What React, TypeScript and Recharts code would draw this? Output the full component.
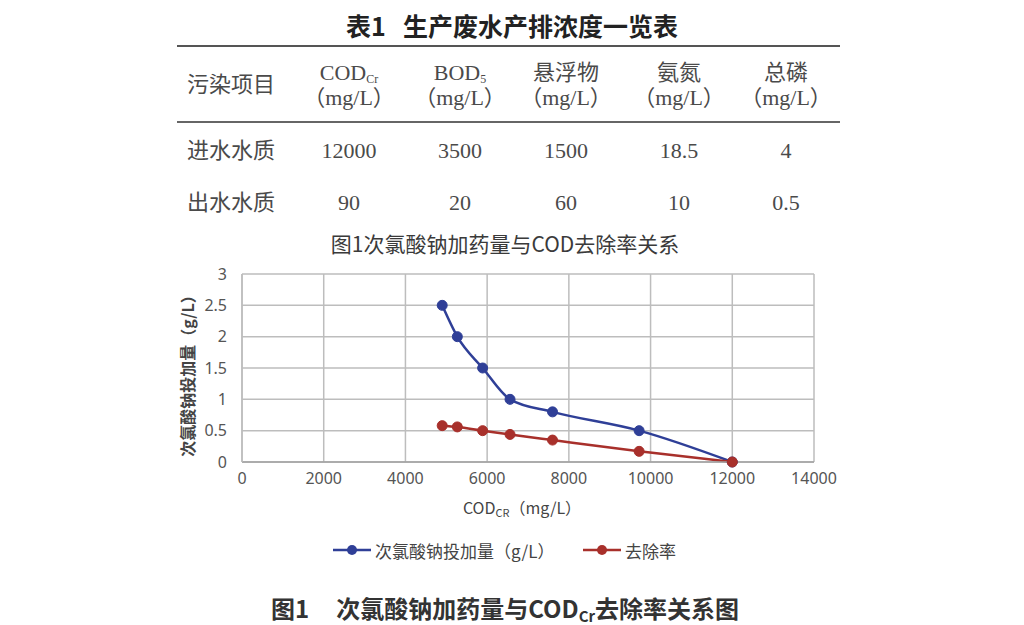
import { LineChart, Line, XAxis, YAxis, CartesianGrid } from 'recharts';

// table 1 values
const tableHeads = ['污染项目', 'COD', 'BOD', '悬浮物', '氨氮', '总磷'];
const tableHeadSubs = ['', 'Cr', '5', '', '', ''];
const inflowRow = ['进水水质', '12000', '3500', '1500', '18.5', '4'];
const outflowRow = ['出水水质', '90', '20', '60', '10', '0.5'];

// figure 1 values
const codValues = [4900, 5270, 5890, 6560, 7600, 9720, 12000];
const doseValues = [2.5, 2.0, 1.5, 1.0, 0.8, 0.5, 0];
const removalValues = [0.58, 0.56, 0.5, 0.44, 0.35, 0.17, 0];
const xTicks = [0, 2000, 4000, 6000, 8000, 10000, 12000, 14000];
const yTicks = [0, 0.5, 1, 1.5, 2, 2.5, 3];

const BLUE = '#2f3f97';
const RED = '#a8302b';
const GRID = '#bdbdbd';

const doseData = codValues.map((x, i) => ({ x, y: doseValues[i] }));
const removalData = codValues.map((x, i) => ({ x, y: removalValues[i] }));

const colCenters = [231, 349, 460, 566, 679, 786];
const tableFont = '"Liberation Serif", "Noto Sans CJK SC", serif';
const sansFont = '"Noto Sans CJK SC", "Noto Sans", sans-serif';

function Cell({ cx, y, children }: { cx: number; y: number; children: any }) {
    return (
        <div style={{
            position: 'absolute', left: cx - 60, top: y, width: 120, textAlign: 'center',
            fontFamily: tableFont, fontSize: 22, lineHeight: '22px', color: '#4a4a4a', whiteSpace: 'nowrap',
        }}>
            {children}
        </div>
    );
}

function LegendItem({ left, color, label }: { left: number; color: string; label: string }) {
    return (
        <div style={{ position: 'absolute', left, top: 540, height: 20, display: 'flex', alignItems: 'center' }}>
            <svg width={38} height={20}>
                <line x1={0} y1={10} x2={38} y2={10} stroke={color} strokeWidth={2.5} />
                <circle cx={19} cy={10} r={5} fill={color} />
            </svg>
            <span style={{ marginLeft: 4, fontFamily: sansFont, fontSize: 17, color: '#444' }}>{label}</span>
        </div>
    );
}

export default function App() {
    return (
        <div style={{ position: 'absolute', left: 0, top: 0, width: 1024, height: 625, background: '#fff', overflow: 'hidden' }}>
            {/* table 1 */}
            <div style={{
                position: 'absolute', left: 0, top: 7, width: 1024, textAlign: 'center',
                fontFamily: sansFont, fontWeight: 700, fontSize: 25, color: '#222',
            }}>
                表1&nbsp;&nbsp;&nbsp;生产废水产排浓度一览表
            </div>
            <div style={{ position: 'absolute', left: 177, top: 45, width: 663, height: 2, background: '#555' }} />
            <div style={{ position: 'absolute', left: 177, top: 121, width: 663, height: 2, background: '#666' }} />

            <Cell cx={colCenters[0]} y={74}>{tableHeads[0]}</Cell>
            {tableHeads.slice(1).map((h, i) => (
                <div key={h}>
                    <Cell cx={colCenters[i + 1]} y={62}>
                        {h}
                        {tableHeadSubs[i + 1] && (
                            <span style={{ fontSize: 12, lineHeight: '12px', position: 'relative', top: 3 }}>
                                {tableHeadSubs[i + 1]}
                            </span>
                        )}
                    </Cell>
                    <Cell cx={colCenters[i + 1]} y={87}>（mg/L）</Cell>
                </div>
            ))}
            {inflowRow.map((v, i) => (
                <Cell key={'in' + i} cx={colCenters[i]} y={140}>{v}</Cell>
            ))}
            {outflowRow.map((v, i) => (
                <Cell key={'out' + i} cx={colCenters[i]} y={192}>{v}</Cell>
            ))}

            {/* figure 1 */}
            <div style={{
                position: 'absolute', left: 0, top: 228, width: 1010, textAlign: 'center',
                fontFamily: sansFont, fontSize: 21, color: '#3a3a3a',
            }}>
                图1次氯酸钠加药量与COD去除率关系
            </div>

            <div style={{ position: 'absolute', left: 150, top: 255 }}>
                <LineChart width={700} height={250} margin={{ top: 19, right: 36, left: 0, bottom: 0 }}>
                    <CartesianGrid stroke={GRID} strokeWidth={1.5} />
                    <XAxis
                        type="number"
                        dataKey="x"
                        domain={[0, 14000]}
                        ticks={xTicks}
                        height={43}
                        tickLine={false}
                        axisLine={{ stroke: '#a0a0a0', strokeWidth: 1.5 }}
                        tickMargin={5}
                        tick={{ fontSize: 16, fill: '#555', fontFamily: '"Noto Sans", sans-serif' }}
                        allowDataOverflow
                    />
                    <YAxis
                        type="number"
                        dataKey="y"
                        domain={[0, 3]}
                        ticks={yTicks}
                        width={92}
                        tickLine={false}
                        axisLine={{ stroke: GRID, strokeWidth: 1.5 }}
                        tickMargin={9}
                        tick={{ fontSize: 16, fill: '#555', fontFamily: '"Noto Sans", sans-serif' }}
                    />
                    <Line
                        data={doseData}
                        dataKey="y"
                        type="monotone"
                        stroke={BLUE}
                        strokeWidth={2.5}
                        dot={{ r: 5, fill: BLUE, stroke: BLUE, strokeWidth: 1 }}
                        isAnimationActive={false}
                    />
                    <Line
                        data={removalData}
                        dataKey="y"
                        type="monotone"
                        stroke={RED}
                        strokeWidth={2.5}
                        dot={{ r: 5, fill: RED, stroke: RED, strokeWidth: 1 }}
                        isAnimationActive={false}
                    />
                </LineChart>
            </div>

            <div style={{
                position: 'absolute', left: 187 - 100, top: 372 - 11, width: 200, height: 22, textAlign: 'center',
                transform: 'rotate(-90deg)', fontFamily: sansFont, fontWeight: 700, fontSize: 16, color: '#444',
                whiteSpace: 'nowrap', lineHeight: '22px',
            }}>
                次氯酸钠投加量（g/L）
            </div>
            <div style={{
                position: 'absolute', left: 422, top: 495, width: 200, textAlign: 'center',
                fontFamily: sansFont, fontSize: 16, color: '#444', whiteSpace: 'nowrap',
            }}>
                COD<sub style={{ fontSize: 11, verticalAlign: '-3px' }}>CR</sub>（mg/L）
            </div>

            <LegendItem left={333} color={BLUE} label="次氯酸钠投加量（g/L）" />
            <LegendItem left={583} color={RED} label="去除率" />

            <div style={{
                position: 'absolute', left: 0, top: 590, width: 1010, textAlign: 'center',
                fontFamily: sansFont, fontWeight: 700, fontSize: 24, color: '#333',
            }}>
                图1&nbsp;&nbsp;&nbsp;&nbsp;&nbsp;次氯酸钠加药量与COD<sub style={{ fontSize: 15, verticalAlign: '-4px' }}>Cr</sub>去除率关系图
            </div>
        </div>
    );
}
